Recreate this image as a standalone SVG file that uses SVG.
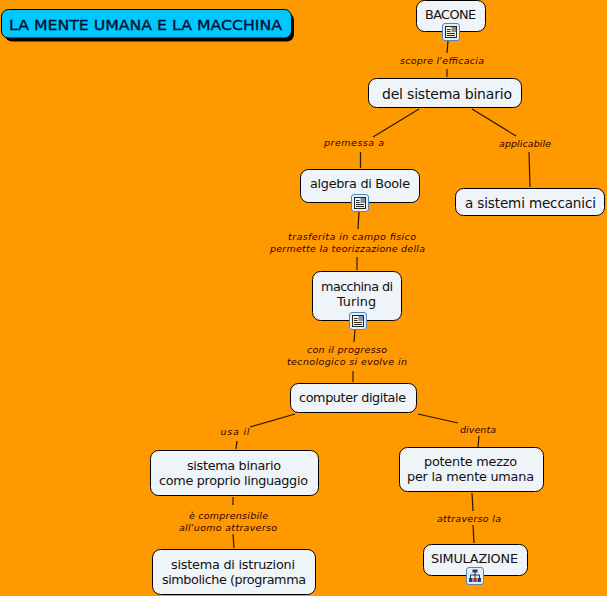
<svg xmlns="http://www.w3.org/2000/svg" width="607" height="596" viewBox="0 0 607 596">
<defs>
<style>
.n{fill:#eff4f8;stroke:#000;stroke-width:1}
.t{font-family:"DejaVu Sans",sans-serif;font-size:12.8px;fill:#111;text-anchor:middle}
.l{font-family:"DejaVu Sans",sans-serif;font-size:9.5px;font-style:italic;fill:#300;text-anchor:middle}
.c{stroke:#2b1800;stroke-width:1.2;fill:none}
</style>
<g id="doc">
<rect x="0.500" y="0.500" width="17" height="17" rx="2.500" fill="#e4eef8" stroke="#4f86c0"/>
<rect x="3.500" y="3.500" width="11" height="11" fill="#f8f6dc" stroke="#111" stroke-width=".9"/>
<path d="M5 6.500h3.500M5 8.500h3.500M5 10.500h8M5 12.500h8" stroke="#111" stroke-width=".9"/>
<rect x="9.500" y="4" width="4.500" height="5" fill="#6d93b5"/>
<rect x="10.500" y="6.500" width="3" height="2" fill="#b58a5a"/>
</g>
<g id="map">
<rect x="0.500" y="0.500" width="17" height="17" rx="2.500" fill="#e4eef8" stroke="#4f86c0"/>
<path d="M9 5v3M4.500 11V8h9v3M9 8v3" stroke="#123" stroke-width=".9" fill="none"/>
<rect x="6.500" y="2.500" width="5" height="3" fill="#1d3f73"/><rect x="3" y="11" width="3.500" height="4" fill="#1d3f73"/><rect x="7.300" y="11" width="3.500" height="4" fill="#a33"/><rect x="11.500" y="11" width="3.500" height="4" fill="#1d3f73"/>
</g>
</defs>
<rect width="607" height="596" fill="#ff9900"/>
<g id="connectors" class="c">
<path d="M448 41L447 53"/><path d="M447 69L447 77"/>
<path d="M419 109L373 137"/><path d="M360.500 152L360.500 168"/>
<path d="M472 109L516 136"/><path d="M529 152L530 187"/>
<path d="M359 212L358 229"/><path d="M357 257L357 270"/>
<path d="M355 330L354 342"/><path d="M353 371L353 382"/>
<path d="M295 414L250 427"/><path d="M237 441L236 449"/>
<path d="M418 414L458 423"/><path d="M479 436L478 447"/>
<path d="M233 497L233 505"/><path d="M233 534L234 548"/>
<path d="M472 493L473 511"/><path d="M473 525L474 543"/>
</g>
<g id="title">
<rect x="5" y="13" width="289" height="28.500" rx="7" fill="#000"/>
<rect x="1.500" y="9.500" width="290" height="28.500" rx="7" fill="#00c8ff" stroke="#000"/>
<text x="9" y="30" font-family="'DejaVu Sans',sans-serif" font-size="14px" stroke="#001030" stroke-width=".35" textLength="273" lengthAdjust="spacingAndGlyphs" fill="#001030">LA MENTE UMANA E LA MACCHINA</text>
</g>
<g id="n-bacone"><rect class="n" x="416.500" y="0.500" width="69" height="31" rx="8"/><text class="t" x="450.500" y="19" textLength="51">BACONE</text><use href="#doc" x="442" y="23"/></g>
<g id="n-sistema"><rect class="n" x="368.500" y="78.500" width="153" height="29" rx="8"/><text class="t" x="447" y="99" style="font-size:14px" textLength="130">del sistema binario</text></g>
<g id="n-boole"><rect class="n" x="300.500" y="169.500" width="119" height="33" rx="8"/><text class="t" x="360" y="188" textLength="100">algebra di Boole</text><use href="#doc" x="351" y="194"/></g>
<g id="n-meccanici"><rect class="n" x="455.500" y="188.500" width="149" height="27" rx="8"/><text class="t" x="530.500" y="208" style="font-size:13.500px" textLength="131">a sistemi meccanici</text></g>
<g id="n-turing"><rect class="n" x="312.500" y="271.500" width="89" height="49" rx="8"/><text class="t" x="357" y="291" textLength="72">macchina di</text><text class="t" x="356.500" y="306" textLength="39">Turing</text><use href="#doc" x="349" y="312"/></g>
<g id="n-computer"><rect class="n" x="290.500" y="383.500" width="126" height="29" rx="8"/><text class="t" x="352.500" y="402" textLength="107">computer digitale</text></g>
<g id="n-binario"><rect class="n" x="150.500" y="450.500" width="168" height="45" rx="8"/><text class="t" x="234" y="470" textLength="94">sistema binario</text><text class="t" x="233.500" y="485" textLength="149">come proprio linguaggio</text></g>
<g id="n-mezzo"><rect class="n" x="399.500" y="447.500" width="144" height="44" rx="8"/><text class="t" x="470.500" y="466" textLength="93">potente mezzo</text><text class="t" x="470.500" y="481" textLength="127">per la mente umana</text></g>
<g id="n-istruzioni"><rect class="n" x="152.500" y="549.500" width="163" height="45" rx="8"/><text class="t" x="233" y="569" textLength="124">sistema di istruzioni</text><text class="t" x="234" y="584" textLength="144">simboliche (programma</text></g>
<g id="n-simulazione"><rect class="n" x="423.500" y="544.500" width="104" height="31" rx="8"/><text class="t" x="474.500" y="563" textLength="87">SIMULAZIONE</text><use href="#map" x="466" y="567"/></g>
<g id="labels">
<text class="l" x="442" y="64" textLength="84">scopre l'efficacia</text>
<text class="l" x="354" y="146" textLength="60">premessa a</text>
<text class="l" x="525" y="147" textLength="52">applicabile</text>
<text class="l" x="352" y="240" textLength="128">trasferita in campo fisico</text>
<text class="l" x="347.500" y="252" textLength="155">permette la teorizzazione della</text>
<text class="l" x="347" y="353" textLength="80">con il progresso</text>
<text class="l" x="347" y="365" textLength="120">tecnologico si evolve in</text>
<text class="l" x="235" y="435" textLength="29">usa il</text>
<text class="l" x="478" y="433" textLength="36">diventa</text>
<text class="l" x="228.500" y="519" textLength="79">è comprensibile</text>
<text class="l" x="228" y="531" textLength="98">all'uomo attraverso</text>
<text class="l" x="469" y="522" textLength="64">attraverso la</text>
</g>
</svg>
